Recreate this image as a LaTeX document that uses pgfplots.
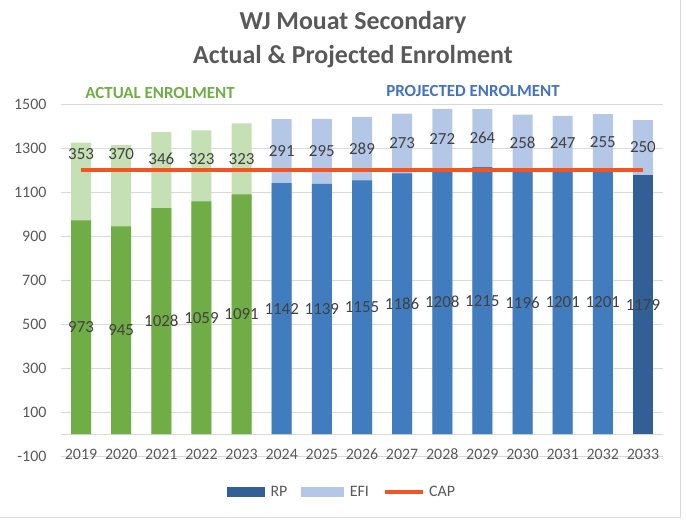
\documentclass[border=0pt]{standalone}
\usepackage{fontspec}
\setmainfont{Carlito}
\usepackage{pgfplots}
\pgfplotsset{compat=1.18}

\definecolor{gdark}{RGB}{112,173,71}
\definecolor{glight}{RGB}{197,224,180}
\definecolor{bmid}{RGB}{65,125,190}
\definecolor{bdark}{RGB}{50,95,150}
\definecolor{blight}{RGB}{180,199,231}
\definecolor{capred}{RGB}{240,85,35}
\definecolor{gridgray}{RGB}{217,217,217}
\definecolor{tickgray}{RGB}{89,89,89}
\definecolor{labelgray}{RGB}{64,64,64}
\definecolor{projblue}{RGB}{68,114,196}

\begin{document}
\begin{tikzpicture}
\path[use as bounding box] (0bp,0bp) rectangle (686bp,522bp);
\draw[gridgray, line width=1bp] (0bp,4.5bp) -- (680.5bp,4.5bp) -- (680.5bp,522bp);

% titles
\node[text=tickgray, font=\fontsize{26}{30}\selectfont\bfseries] at (353bp,500bp) {WJ Mouat Secondary};
\node[text=tickgray, font=\fontsize{26}{30}\selectfont\bfseries] at (353bp,465bp) {Actual \& Projected Enrolment};
\node[text=gdark, font=\fontsize{17}{17}\selectfont\bfseries] at (160bp,429bp) {ACTUAL ENROLMENT};
\node[text=projblue, font=\fontsize{17}{17}\selectfont\bfseries] at (473bp,431bp) {PROJECTED ENROLMENT};

\begin{axis}[
  at={(61bp,66bp)}, anchor=south west,
  scale only axis, width=602bp, height=351.5bp,
  xmin=-0.5, xmax=14.5, ymin=-100, ymax=1500,
  xtick={0,...,14},
  xticklabels={2019,2020,2021,2022,2023,2024,2025,2026,2027,2028,2029,2030,2031,2032,2033},
  ytick={-100,100,...,1500},
  extra y ticks={0}, extra y tick labels={},
  extra y tick style={grid=major},
  ymajorgrids, grid style={gridgray, line width=1bp},
  axis line style={draw=none},
  major tick length=0pt,
  tick label style={font=\fontsize{16}{16}\selectfont, text=tickgray},
  /pgf/number format/assume math mode=true,
  /pgf/number format/1000 sep={},
  xticklabel style={anchor=center, yshift=1.5bp},
  yticklabel style={anchor=east, xshift=-11bp},
  clip=false,
  legend columns=3,
  legend style={at={(0.467,-0.102)}, anchor=center, draw=none,
    font=\fontsize{16}{16}\selectfont, text=tickgray,
    /tikz/every even column/.append style={column sep=12bp}},
]
\addlegendimage{legend image code/.code={\fill[bdark] (0bp,-4.5bp) rectangle (37bp,4.5bp);
  \path (41bp,0bp);}}
\addlegendentry{RP}
\addlegendimage{legend image code/.code={\fill[blight] (0bp,-4.5bp) rectangle (42bp,4.5bp);
  \path (46bp,0bp);}}
\addlegendentry{EFI}
\addlegendimage{legend image code/.code={\draw[capred, line width=4bp] (0bp,0bp) -- (38bp,0bp);
  \path (42bp,0bp);}}
\addlegendentry{CAP}

% totals (RP + EFI), drawn first
\addplot[ybar, bar width=20bp, bar shift=0pt, fill=glight, draw=none, forget plot]
  coordinates {(0,1326)(1,1315)(2,1374)(3,1382)(4,1414)};
\addplot[ybar, bar width=20bp, bar shift=0pt, fill=blight, draw=none, forget plot]
  coordinates {(5,1433)(6,1434)(7,1444)(8,1459)(9,1480)(10,1479)(11,1454)(12,1448)(13,1456)(14,1429)};
% RP
\addplot[ybar, bar width=20bp, bar shift=0pt, fill=gdark, draw=none, forget plot]
  coordinates {(0,973)(1,945)(2,1028)(3,1059)(4,1091)};
\addplot[ybar, bar width=20bp, bar shift=0pt, fill=bmid, draw=none, forget plot]
  coordinates {(5,1142)(6,1139)(7,1155)(8,1186)(9,1208)(10,1215)(11,1196)(12,1201)(13,1201)};
\addplot[ybar, bar width=20bp, bar shift=0pt, fill=bdark, draw=none, forget plot]
  coordinates {(14,1179)};
% CAP
\addplot[capred, line width=4bp, mark=none, forget plot]
  coordinates {(0,1200)(1,1200)(2,1200)(3,1200)(4,1200)(5,1200)(6,1200)(7,1200)
               (8,1200)(9,1200)(10,1200)(11,1200)(12,1200)(13,1200)(14,1200)};

% data labels
\addplot[draw=none, mark=none, forget plot, nodes near coords, nodes near coords align=center,
  point meta=explicit symbolic,
  every node near coord/.append style={font=\fontsize{17}{17}\selectfont, text=labelgray, inner sep=0pt}]
  coordinates {(0,486.5)[973] (1,472.5)[945] (2,514)[1028] (3,529.5)[1059] (4,545.5)[1091]
               (5,571)[1142] (6,569.5)[1139] (7,577.5)[1155] (8,593)[1186] (9,604)[1208]
               (10,607.5)[1215] (11,598)[1196] (12,600.5)[1201] (13,600.5)[1201] (14,589.5)[1179]};
\addplot[draw=none, mark=none, forget plot, nodes near coords, nodes near coords align=center,
  point meta=explicit symbolic,
  every node near coord/.append style={font=\fontsize{17}{17}\selectfont, text=labelgray, inner sep=0pt}]
  coordinates {(0,1276)[353] (1,1276)[370] (2,1253)[346] (3,1253)[323] (4,1253)[323]
               (5,1287.5)[291] (6,1286.5)[295] (7,1299.5)[289] (8,1322.5)[273] (9,1344)[272]
               (10,1347)[264] (11,1325)[258] (12,1324.5)[247] (13,1328.5)[255] (14,1304)[250]};
\end{axis}
\end{tikzpicture}
\end{document}
